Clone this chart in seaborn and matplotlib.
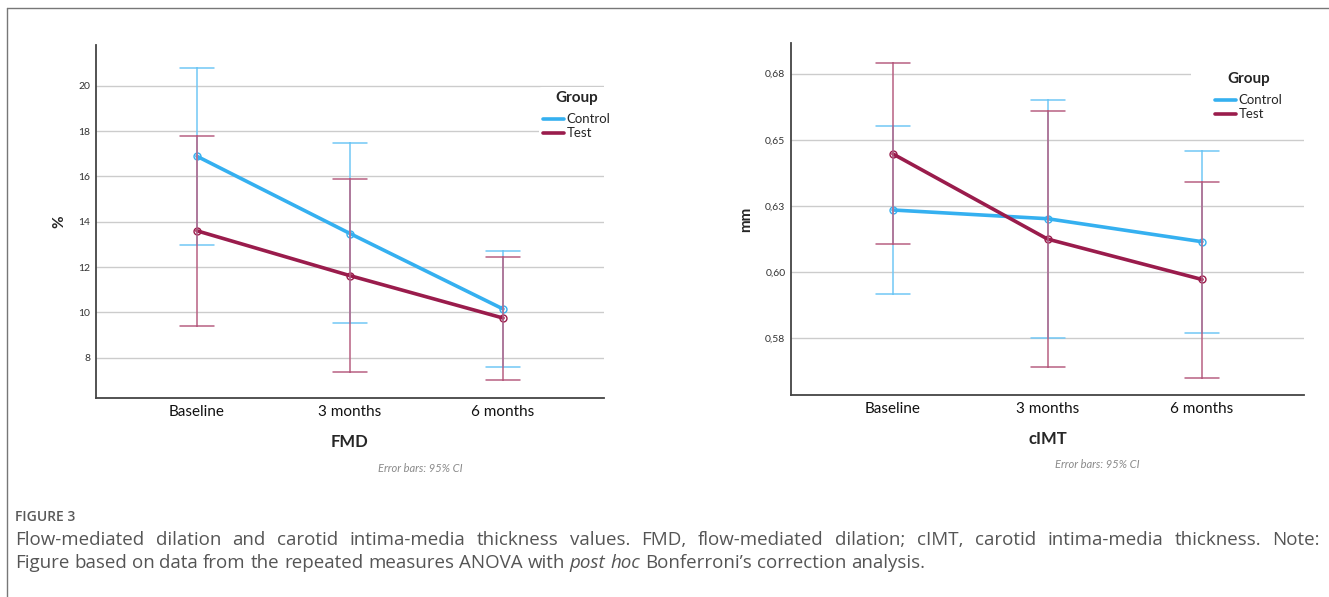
import numpy as np
import pandas as pd
import seaborn as sns
import matplotlib.pyplot as plt
from matplotlib.lines import Line2D
from matplotlib.patches import Rectangle
from matplotlib.colors import to_rgb

# values (means and 95% CI bounds)
times = ["Baseline", "3 months", "6 months"]
groups = ["Control", "Test"]

fmd_mean = {"Control": [16.89, 13.48, 10.15], "Test": [13.60, 11.62, 9.75]}
fmd_low = {"Control": [12.96, 9.53, 7.58], "Test": [9.41, 7.37, 7.00]}
fmd_high = {"Control": [20.78, 17.48, 12.73], "Test": [17.80, 15.90, 12.46]}

imt_mean = {"Control": [0.6234, 0.6201, 0.6114], "Test": [0.6446, 0.6124, 0.5971]}
imt_low = {"Control": [0.5916, 0.5750, 0.5770], "Test": [0.6105, 0.5640, 0.5600]}
imt_high = {"Control": [0.6552, 0.6652, 0.6458], "Test": [0.6789, 0.6609, 0.6341]}

fmd_ticks = [8, 10, 12, 14, 16, 18, 20]
imt_ticks = [0.575, 0.600, 0.625, 0.650, 0.675]
imt_ticklabels = ["0,58", "0,60", "0,63", "0,65", "0,68"]

colors = {"Control": "#35b0f0", "Test": "#9a1c4c"}


def long_table(mean, low, high):
    # three rows per point: median = mean, min/max = CI bounds
    rows = []
    for g in groups:
        for i, t in enumerate(times):
            for v in (low[g][i], mean[g][i], high[g][i]):
                rows.append({"time": t, "Group": g, "value": v})
    return pd.DataFrame(rows)


def lighten(c, f):
    r = np.array(to_rgb(c))
    return tuple(r + (1 - r) * f)


sns.set_style("white")
plt.rcParams["font.family"] = ["Lato", "DejaVu Sans"]

fig = plt.figure(figsize=(13.29, 5.97), dpi=100)
ax1 = fig.add_axes([0.0722, 0.3333, 0.3823, 0.5913])
ax2 = fig.add_axes([0.5952, 0.3384, 0.3860, 0.5896])


def draw(ax, df):
    sns.pointplot(data=df, x="time", y="value", hue="Group", order=times,
                  hue_order=groups, palette=colors, estimator="median",
                  errorbar=("pi", 100), capsize=0.22,
                  err_kws={"linewidth": 1.1},
                  markers="o", markersize=5, markerfacecolor="none",
                  markeredgewidth=1, linewidth=2.6, ax=ax, legend=False)
    # error bars lighter than the mean lines
    for ln in ax.lines:
        if len(ln.get_xdata()) != len(times):
            ln.set_color(lighten(ln.get_color(), 0.3))
    ax.set_xlim(-0.66, 2.66)
    ax.grid(axis="y", color="#cccccc", linewidth=1)
    ax.set_axisbelow(True)
    for s in ["top", "right"]:
        ax.spines[s].set_visible(False)
    for s in ["left", "bottom"]:
        ax.spines[s].set_color("#444444")
        ax.spines[s].set_linewidth(1.3)
    ax.tick_params(length=0)
    ax.tick_params(axis="y", labelsize=7.5, pad=4, labelcolor="#333333")
    ax.tick_params(axis="x", labelsize=11, pad=5, labelcolor="#111111")


draw(ax1, long_table(fmd_mean, fmd_low, fmd_high))
ax1.set_ylim(6.22, 21.8)
ax1.set_yticks(fmd_ticks)
ax1.set_xlabel("FMD", fontsize=12, fontweight="bold", labelpad=11)
ax1.set_ylabel("%", fontsize=11, fontweight="bold", labelpad=9)

draw(ax2, long_table(imt_mean, imt_low, imt_high))
ax2.set_ylim(0.5534, 0.6866)
ax2.set_yticks(imt_ticks)
ax2.set_yticklabels(imt_ticklabels)
ax2.set_xlabel("cIMT", fontsize=12, fontweight="bold", labelpad=11)
ax2.set_ylabel("mm", fontsize=11, fontweight="bold", labelpad=9)
# blank area behind the right legend (hides the top gridline there)
ax2.add_patch(Rectangle((0.78, 0.77), 0.22, 0.2, transform=ax2.transAxes,
                        facecolor="white", edgecolor="none", zorder=1))

handles = [Line2D([], [], color=colors[g], linewidth=2.6) for g in groups]
for ax, anchor in [(ax1, (0.872, 0.881)), (ax2, (0.818, 0.929))]:
    leg = ax.legend(handles, groups, title="Group", loc="upper left",
                    bbox_to_anchor=anchor, frameon=True, facecolor="white",
                    edgecolor="none", framealpha=1, fontsize=9.5,
                    handlelength=1.6, handletextpad=0.2, borderpad=0.3,
                    labelspacing=0.15, borderaxespad=0)
    leg.get_title().set_fontweight("bold")
    leg.get_title().set_fontsize(11)
    leg._legend_box.sep = 6
    leg.set_zorder(5)

fig.text(420 / 1329, 1 - 468 / 597, "Error bars: 95% CI", fontsize=8,
         style="italic", color="#8a8a8a", ha="center", va="center")
fig.text(1097 / 1329, 1 - 465 / 597, "Error bars: 95% CI", fontsize=8,
         style="italic", color="#8a8a8a", ha="center", va="center")

# frame lines (top and left)
fig.add_artist(Line2D([7 / 1329, 1], [1 - 8 / 597, 1 - 8 / 597], color="#777777", linewidth=1))
fig.add_artist(Line2D([7 / 1329, 7 / 1329], [0, 1 - 8 / 597], color="#777777", linewidth=1))

# caption
fig.text(15 / 1329, 1 - 517 / 597, "FIGURE 3", fontsize=10, color="#5a5a5a",
         va="center", family="Open Sans", fontweight="semibold")

line1 = ("Flow-mediated dilation and carotid intima-media thickness values. FMD, "
         "flow-mediated dilation; cIMT, carotid intima-media thickness. Note:").split()
line2 = [(w, "normal") for w in "Figure based on data from the repeated measures ANOVA with".split()]
line2 += [("post", "italic"), ("hoc", "italic")]
line2 += [(w, "normal") for w in "Bonferroni’s correction analysis.".split()]

renderer = fig.canvas.get_renderer()
W = fig.bbox.width
cap_kw = dict(fontsize=13.5, color="#555555", va="center", family="Open Sans")


def place_words(words, y, x0, x1=None):
    texts = [fig.text(0, 1 - y / 597, w, style=st, **cap_kw) for w, st in words]
    widths = [t.get_window_extent(renderer).width for t in texts]
    if x1 is None:
        probe = fig.text(0, 0, "a a", **cap_kw)
        pa = fig.text(0, 0, "aa", **cap_kw)
        gap = probe.get_window_extent(renderer).width - pa.get_window_extent(renderer).width
        probe.remove()
        pa.remove()
    else:
        gap = (x1 - x0 - sum(widths)) / (len(words) - 1)
    x = x0
    for t, w in zip(texts, widths):
        t.set_x(x / W)
        x += w + gap


place_words([(w, "normal") for w in line1], 540, 15, 1320)
place_words(line2, 563, 15)

fig.savefig("out.png", dpi=100, facecolor="white")
